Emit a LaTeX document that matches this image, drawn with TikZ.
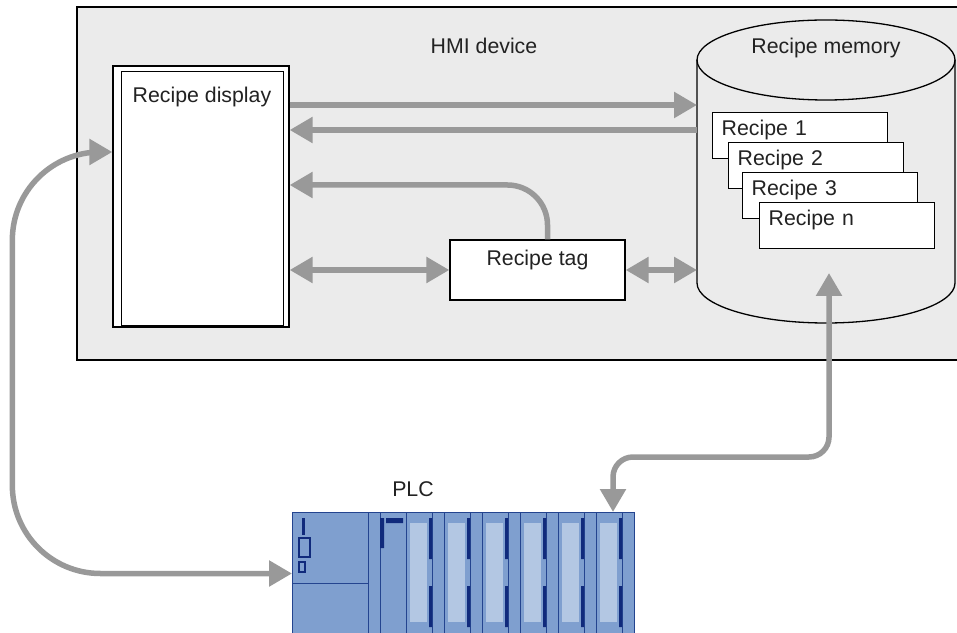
\documentclass[tikz,border=0pt]{standalone}
\usepackage{fontspec}
\setmainfont{Liberation Sans}
\usetikzlibrary{arrows.meta}
\definecolor{hmigray}{HTML}{EBEBEB}
\definecolor{flowgray}{HTML}{999999}
\definecolor{plcmid}{HTML}{7F9FCF}
\definecolor{plclight}{HTML}{B3C7E3}
\definecolor{plcdark}{HTML}{102A7C}
\definecolor{plcedge}{HTML}{24448F}
\definecolor{txt}{HTML}{222222}
\tikzstyle{lbl} = [font=\fontsize{21.3}{25}\selectfont, text=txt, inner sep=0pt]
\tikzstyle{box} = [draw, line width=1.3pt, fill=white]
\tikzstyle{card} = [box, lbl, anchor=north west, text width=157pt, align=left, inner xsep=9pt, inner ysep=8pt, text height=15pt, text depth=15pt]
\tikzstyle{es} = [draw=flowgray, line width=5.5pt, ->]
\tikzstyle{des} = [es, <->]

\begin{document}
\begin{tikzpicture}[x=1pt, y=1pt, >={Triangle[length=23pt,width=25pt]}]
			\clip (0,0) rectangle (957,632);
			\draw [line width=1.6pt, fill=hmigray] (77,625) rectangle (962,272);
			\node [lbl] (hmi) at (484,586) {HMI device};
			\node [box, minimum width=176pt, minimum height=261pt] (disp) at (201,435.5) {};
			\draw [line width=1.3pt] ([shift={(9,-6)}]disp.north west) rectangle ([shift={(-6,2)}]disp.south east);
			\node [lbl] (disptxt) at (202,535) {Recipe display};
			\draw [line width=1.3pt] (697,572) -- (697,349) arc [start angle=180, end angle=360, x radius=129, y radius=40] -- (955,572);
			\draw [line width=1.3pt] (826,572) ellipse [x radius=129, y radius=40];
			\node [minimum width=258pt, minimum height=263pt, anchor=south west, inner sep=0pt] (mem) at (697,309) {};
			\node [lbl] (memtxt) at (826,584) {Recipe memory};
			\node [card] (r1) at (712,520) {Recipe 1};
			\node [card] (r2) at (728,490) {Recipe 2};
			\node [card] (r3) at (742,460) {Recipe 3};
			\node [card] (rn) at (759,430) {Recipe n};
			\node [box, lbl, minimum width=175pt, inner ysep=10pt, text height=15.5pt, text depth=24.5pt] (tag) at (537.5,362) {Recipe tag};
			\draw [es] (disp.east |- 0,527) -- (mem.west |- 0,527);
			\draw [es] (mem.west |- 0,502) -- (disp.east |- 0,502);
			\draw [es, rounded corners=40pt] ([xshift=10pt]tag.north) |- (disp.east |- 0,447);
			\draw [des] (disp.east |- tag.west) -- (tag.west);
			\draw [des] (tag.east) -- (tag.east -| mem.west);
			\node [lbl] (plctxt) at (413,143) {PLC};
			\node [draw=plcedge, fill=plcmid, line width=1pt, minimum width=342pt, minimum height=122pt, anchor=north west, inner sep=0pt] (plc) at (292,120) {};
			\draw [plcedge, line width=1pt] (292,49) -- (368,49) (368,120) -- (368,-2) (380,120) -- (380,-2);
			\fill [plcdark] (302,114) rectangle (305,97);
			\draw [plcdark, line width=1.2pt] (299,94) rectangle (310,75) (299,70) rectangle (305,60);
			\fill [plcdark] (380,114) rectangle (384,84) (386,114) rectangle (403,109);
			\foreach \a in {406,444,...,596} {
				\draw [plcedge, line width=1pt] (\a,120) -- (\a,-2) (\a+26,120) -- (\a+26,-2);
				\fill [plclight] (\a+4,109) rectangle (\a+21,10);
				\fill [plcdark] (\a+23,114) rectangle (\a+26,73) (\a+23,46) rectangle (\a+26,5);
			}
			\coordinate (plcio) at (613,120);
			\coordinate (membot) at (829,359);
			\draw [des, rounded corners=20pt] (plcio) -- ++(0,55) -| (membot);
			\draw [des, rounded corners=88pt] (disp.west |- 0,480) -- ++(-100,0) |- (plc.west);
		\end{tikzpicture}
\end{document}
